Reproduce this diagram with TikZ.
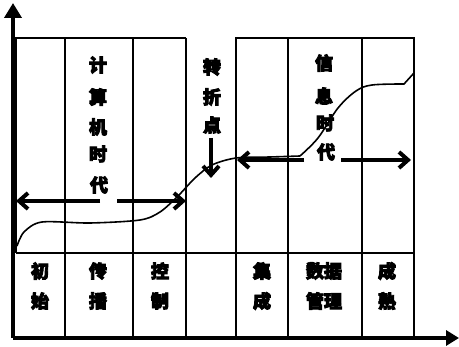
\documentclass[tikz,border=0pt]{standalone}
\usepackage{fontspec}
\newfontfamily\cjk{Noto Sans CJK SC}[FakeBold=5]
\usetikzlibrary{arrows.meta}
\begin{document}
\begin{tikzpicture}[x=1pt,y=-1pt,
  boxline/.style={line width=2.4pt},
  axisline/.style={line width=4pt},
  bigarrow/.style={line width=4pt,-{Straight Barb[length=9pt,width=16pt,line width=4pt]}},
  curve/.style={line width=1.6pt},
  lbl/.style={font=\cjk\bfseries\fontsize{18}{18}\selectfont,inner sep=0pt}]
\useasboundingbox (0,0) rectangle (459,347);
% boxes
\draw[boxline] (16,253) -- (16,38) -- (186,38);
\draw[boxline] (65,38) -- (65,338);
\draw[boxline] (133,38) -- (133,338);
\draw[boxline] (186,38) -- (186,338);
\draw[boxline] (236,338) -- (236,38) -- (414,38) -- (414,338);
\draw[boxline] (288,38) -- (288,338);
\draw[boxline] (362,38) -- (362,338);
\draw[boxline] (16,253) -- (414,253);
% axes
\coordinate (O) at (13,338);
\coordinate (ytip) at (13,3);
\coordinate (xtip) at (459,338);
\draw[axisline,-{Triangle[length=15pt,width=17pt]}] (O) -- (ytip);
\draw[axisline,-{Triangle[length=13pt,width=15pt]}] (O) -- (xtip);
% curve
\draw[curve] plot[smooth,tension=0.5] coordinates {(17,246) (24,232) (42,222) (90,223) (140,220) (160,212) (178,196) (195,178) (212,165) (236,158) (270,157) (300,156)};
\draw[curve] plot[smooth,tension=0.55] coordinates {(300,156) (318,138) (338,108) (356,91) (372,85) (404,84)} -- (414,73);
% labels
\node[lbl] (c1) at (98,65) {计};
\node[lbl] (c2) at (98,97) {算};
\node[lbl] (c3) at (98,127) {机};
\node[lbl] (c4) at (98,154) {时};
\node[lbl] (c5) at (99,185) {代};
\node[lbl] (t1) at (212,67) {转};
\node[lbl] (t2) at (212,97) {折};
\node[lbl] (t3) at (212,125) {点};
\node[lbl] (i1) at (324,63) {信};
\node[lbl] (i2) at (324,96) {息};
\node[lbl] (i3) at (325,123) {时};
\node[lbl] (i4) at (326,152) {代};
% arrows
\coordinate (la1) at (100,201); \coordinate (la2) at (16,201);
\coordinate (la3) at (117,201); \coordinate (la4) at (186,201);
\draw[bigarrow] (la1) -- (la2);
\draw[bigarrow] (la3) -- (la4);
\coordinate (ra1) at (304,160); \coordinate (ra2) at (237,160);
\coordinate (ra3) at (341,160); \coordinate (ra4) at (411,160);
\draw[bigarrow] (ra1) -- (ra2);
\draw[bigarrow] (ra3) -- (ra4);
\coordinate (ta1) at (211,138); \coordinate (ta2) at (211,178);
\draw[bigarrow] (ta1) -- (ta2);
% bottom labels
\node[lbl] (b1a) at (40,271) {初};
\node[lbl] (b1b) at (40,301) {始};
\node[lbl] (b2a) at (98,271) {传};
\node[lbl] (b2b) at (98,301) {播};
\node[lbl] (b3a) at (160,271) {控};
\node[lbl] (b3b) at (160,301) {制};
\node[lbl] (b4a) at (262,271) {集};
\node[lbl] (b4b) at (262,301) {成};
\node[lbl] (b5a) at (324,271) {数据};
\node[lbl] (b5b) at (324,301) {管理};
\node[lbl] (b6a) at (387,271) {成};
\node[lbl] (b6b) at (387,301) {熟};
\end{tikzpicture}
\end{document}
